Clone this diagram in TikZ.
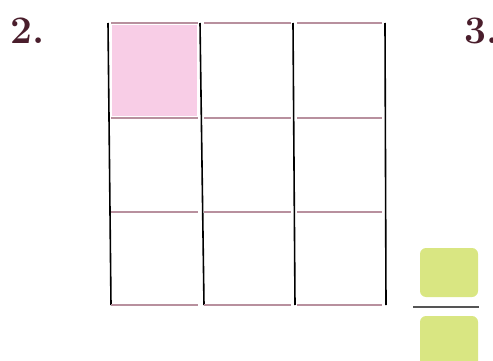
\documentclass[tikz,border=0pt]{standalone}
\usetikzlibrary{positioning}
\definecolor{cmaroon}{HTML}{4A1E2C}
\definecolor{cpink}{HTML}{F8CDE6}
\definecolor{cmauve}{HTML}{B8909E}
\definecolor{cgreen}{HTML}{D9E682}
\definecolor{cgrey}{HTML}{555555}
\tikzset{
  every picture/.style={x=1pt, y=-1pt},
  num/.style={font=\bfseries\fontsize{39}{39}\selectfont, text=cmaroon, anchor=north west, inner sep=0pt},
  vline/.style={draw=black, line width=1.6pt},
  hline/.style={draw=cmauve, line width=1.8pt},
  tile/.style={fill=cgreen, rounded corners=6pt},
}

\begin{document}
\begin{tikzpicture}
  \clip (0,0) rectangle (493,361);
  \useasboundingbox (0,0) rectangle (493,361);
  \node[num] (two) at (10,18) {2.};
  \node[num] (three) at (464,18) {3.};
  % shaded cell
  \fill[cpink] (112,25) rectangle (197,116);
  % grid
  \foreach \xt/\xb in {108/111, 200/204, 293/295, 385/386}
    \draw[vline] (\xt,23) -- (\xb,305);
  \foreach \y in {23, 118, 212, 305}
    \foreach \xa/\xe in {108/201, 201/294, 294/385}
      \draw[hline] (\xa+3,\y) -- (\xe-3,\y);
  % fraction tiles
  \fill[tile] (420,248) rectangle (478,297);
  \draw[cgrey, line width=1.5pt] (413,307) -- (479,307);
  \fill[tile] (420,316) rectangle (478,372);
\end{tikzpicture}
\end{document}
